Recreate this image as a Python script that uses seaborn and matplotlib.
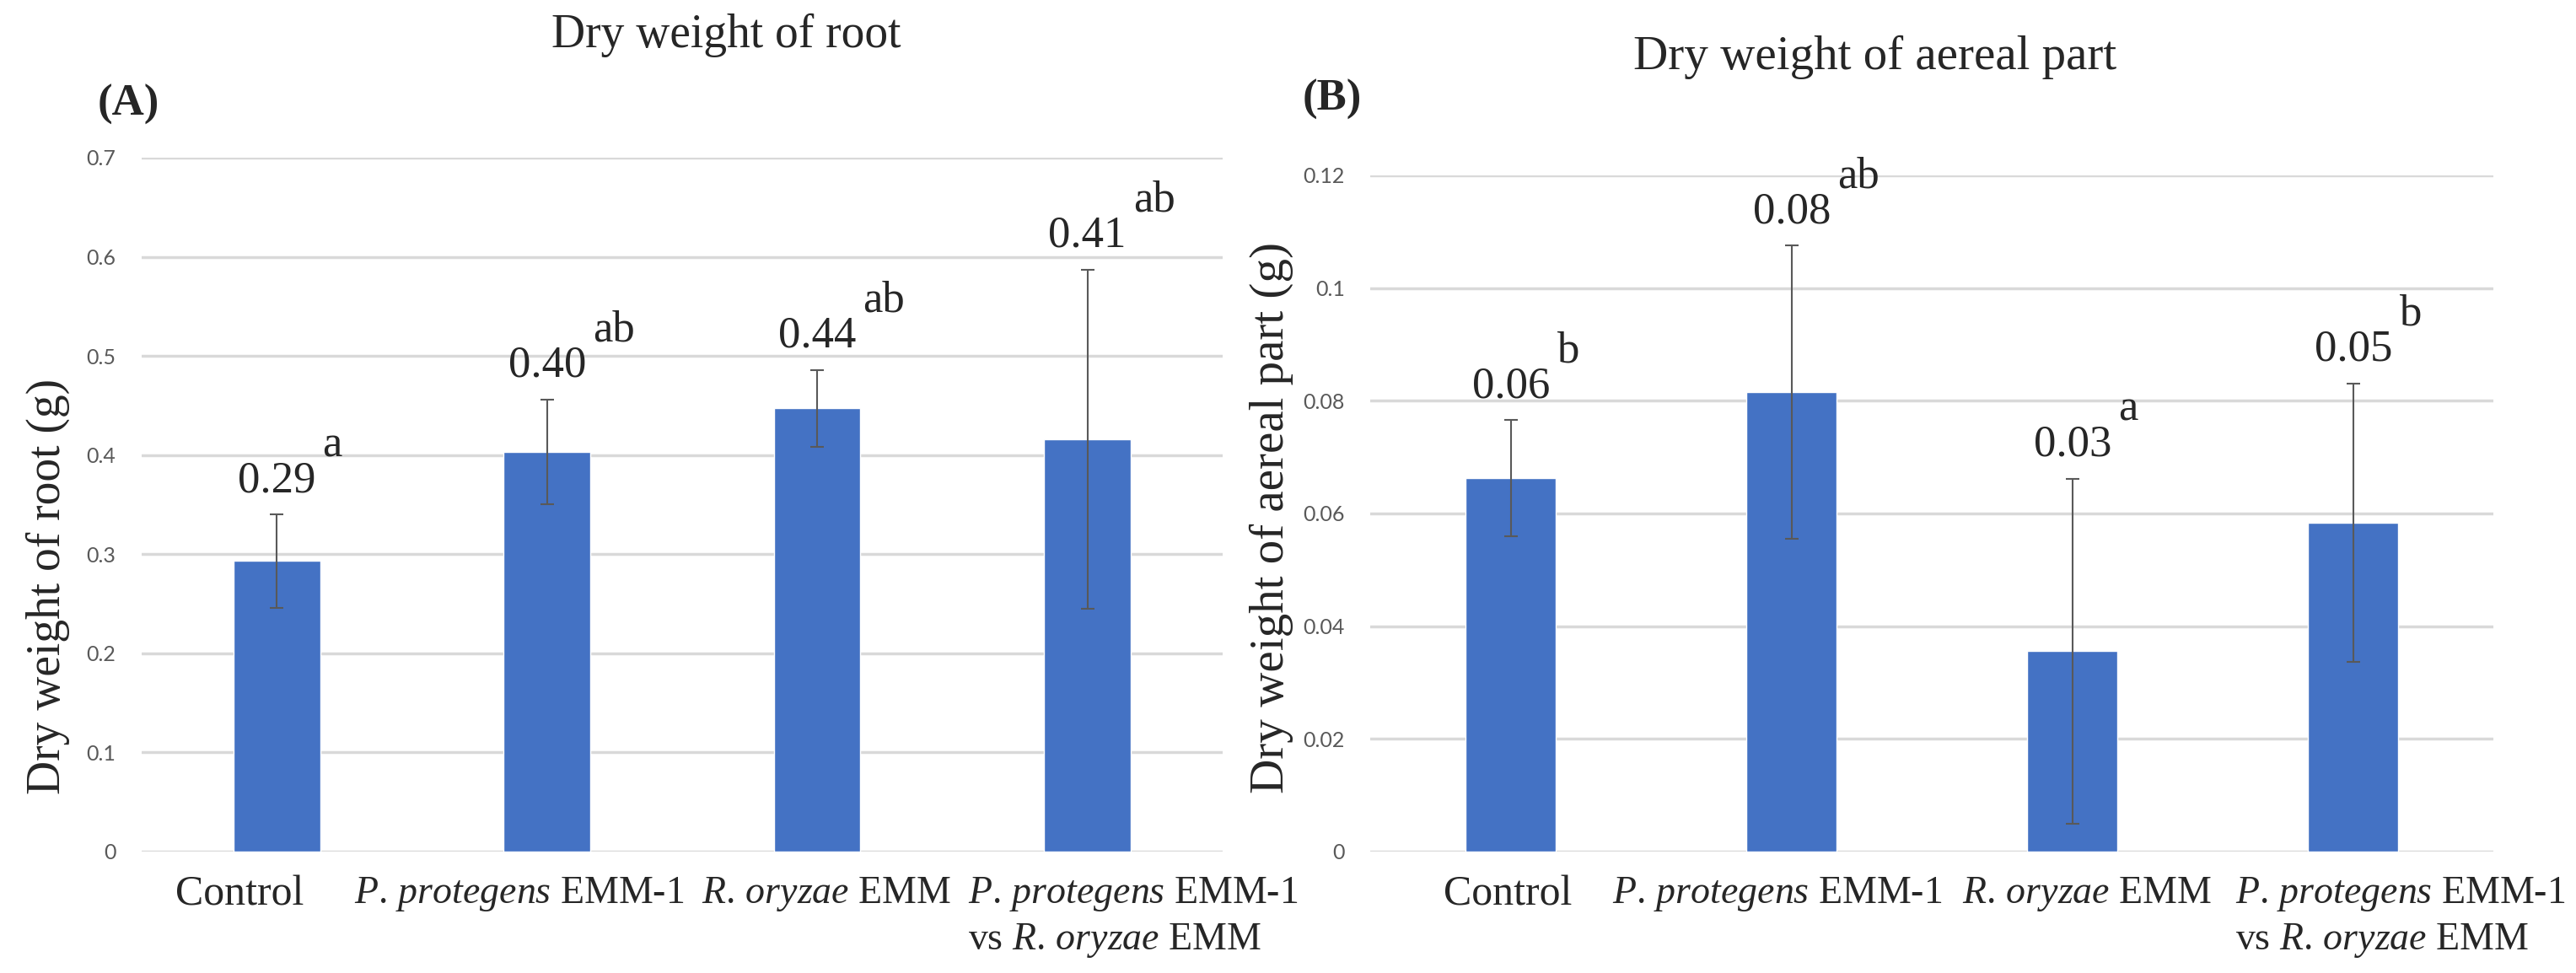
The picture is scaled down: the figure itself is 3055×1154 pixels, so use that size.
import matplotlib
matplotlib.use("Agg")
import matplotlib.pyplot as plt
import seaborn as sns
import pandas as pd

# data
categories = ["Control", "P. protegens EMM-1", "R. oryzae EMM",
              "P. protegens EMM-1 vs R. oryzae EMM"]
cat_labels = ["Control",
              r"$\mathit{P.\,protegens}$ EMM-1",
              r"$\mathit{R.\,oryzae}$ EMM",
              "$\\mathit{P.\\,protegens}$ EMM-1\nvs $\\mathit{R.\\,oryzae}$ EMM"]

root_mean = [0.293, 0.403, 0.447, 0.416]
root_sd = [0.047, 0.053, 0.039, 0.171]
root_text = ["0.29", "0.40", "0.44", "0.41"]
root_letters = ["a", "ab", "ab", "ab"]
root_ticks = [0, 0.1, 0.2, 0.3, 0.4, 0.5, 0.6, 0.7]

aerial_mean = [0.0663, 0.0815, 0.0356, 0.0584]
aerial_sd = [0.0103, 0.026, 0.0306, 0.0247]
aerial_text = ["0.06", "0.08", "0.03", "0.05"]
aerial_letters = ["b", "ab", "a", "b"]
aerial_ticks = [0, 0.02, 0.04, 0.06, 0.08, 0.1, 0.12]

BAR = "#4472C4"
SERIF = "Liberation Serif"

sns.set_style("white")
plt.rcParams["font.family"] = [SERIF, "DejaVu Serif"]
plt.rcParams["mathtext.fontset"] = "custom"
plt.rcParams["mathtext.rm"] = SERIF
plt.rcParams["mathtext.it"] = SERIF + ":italic"

fig = plt.figure(figsize=(30.55, 11.54), dpi=100)
ax1 = fig.add_axes([0.055, 0.1248, 0.4196, 0.7132])
ax2 = fig.add_axes([0.532, 0.1248, 0.436, 0.695])


def draw_panel(ax, means, sds, texts, letters, ticks, label_shift):
    df = pd.DataFrame({"cat": categories, "val": means})
    sns.barplot(data=df, x="cat", y="val", color=BAR, saturation=1,
                width=0.32, ax=ax)
    xs = list(range(len(categories)))
    ax.errorbar(xs, means, yerr=sds, fmt="none", ecolor="#595959",
                elinewidth=1.5, capsize=6, capthick=1.5, zorder=3)
    for x, m, s, t, l in zip(xs, means, sds, texts, letters):
        top = m + s
        ax.annotate(t, (x, top), xytext=(0, 40), textcoords="offset pixels",
                    ha="center", va="center", fontsize=38)
        ax.annotate(l, (x, top), xytext=(54, 82), textcoords="offset pixels",
                    ha="left", va="center", fontsize=38)
    ax.set_xlim(-0.5, 3.5)
    ax.set_ylim(0, ticks[-1])
    ax.set_yticks(ticks)
    ax.set_yticklabels([f"{v:g}" for v in ticks], family="Lato",
                       fontsize=18, color="#595959")
    # category labels drawn as annotations so they can sit a little off-centre
    ax.set_xticks(xs)
    ax.set_xticklabels([])
    for x, lab, size, dx in zip(xs, cat_labels, [36, 33, 33, 33], label_shift):
        ax.annotate(lab, (x, 0), xycoords=("data", "axes fraction"),
                    xytext=(dx, -28), textcoords="offset pixels",
                    ha="center", va="top", multialignment="left",
                    linespacing=1.3, fontsize=size, annotation_clip=False)
    ax.tick_params(axis="both", length=0)
    ax.tick_params(axis="y", pad=22)
    ax.yaxis.grid(True, color="#d9d9d9", lw=2.5)
    ax.set_axisbelow(True)
    for sp in ax.spines.values():
        sp.set_visible(False)
    ax.set_xlabel("")
    ax.set_ylabel("")


draw_panel(ax1, root_mean, root_sd, root_text, root_letters, root_ticks,
           [-44, -33, 11, 54])
draw_panel(ax2, aerial_mean, aerial_sd, aerial_text, aerial_letters, aerial_ticks,
           [-4, -17, 17, 56])

fig.text(0.282, 0.9636, "Dry weight of root", ha="center", va="center", fontsize=40)
fig.text(0.728, 0.941, "Dry weight of aereal part", ha="center", va="center", fontsize=41)
fig.text(0.050, 0.893, "(A)", ha="center", va="center", fontsize=38, weight="bold")
fig.text(0.517, 0.898, "(B)", ha="center", va="center", fontsize=38, weight="bold")
fig.text(0.0187, 0.397, "Dry weight of root (g)", rotation=90,
         ha="center", va="center", fontsize=40)
fig.text(0.4936, 0.468, "Dry weight of aereal part (g)", rotation=90,
         ha="center", va="center", fontsize=41)

fig.savefig("out.png", dpi=100)
